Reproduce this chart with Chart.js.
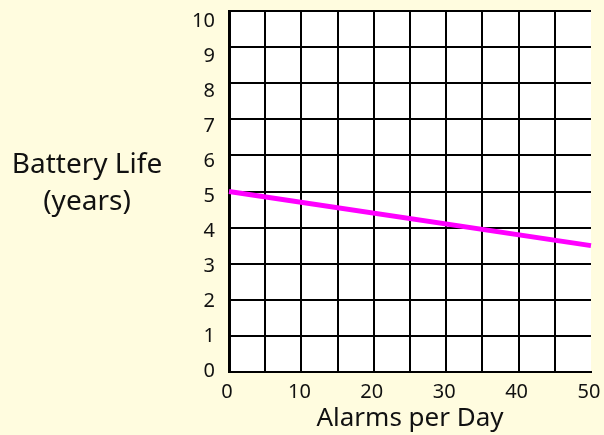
<!DOCTYPE html>
<html>
<head>
<meta charset="utf-8">
<script src="https://cdn.jsdelivr.net/npm/chart.js@4/dist/chart.umd.min.js"></script>
<style>
html,body{margin:0;padding:0;background:#FFFCDF;}
#wrap{width:604px;height:435px;position:relative;}
</style>
</head>
<body>
<div id="wrap"><canvas id="c" width="604" height="435"></canvas></div>
<script>
const alarmsPerDay = [0, 50];
const batteryLifeYears = [5, 3.5];
const xTickLabels = [0, 10, 20, 30, 40, 50];
const yTickLabels = [0, 1, 2, 3, 4, 5, 6, 7, 8, 9, 10];
const xTitle = "Alarms per Day";
const yTitleLines = ["Battery Life", "(years)"];

const FONT = "'Noto Sans', 'DejaVu Sans', sans-serif";

const bgPlugin = {
  id: 'bg',
  beforeDraw(chart) {
    const {ctx, chartArea} = chart;
    ctx.save();
    ctx.fillStyle = '#FFFCDF';
    ctx.fillRect(0, 0, chart.width, chart.height);
    ctx.fillStyle = '#FFFFFF';
    ctx.fillRect(chartArea.left, chartArea.top, chartArea.right - chartArea.left, chartArea.bottom - chartArea.top);
    ctx.restore();
  },
  afterDraw(chart) {
    const {ctx, chartArea} = chart;
    ctx.save();
    ctx.fillStyle = '#111111';
    ctx.textAlign = 'center';
    ctx.textBaseline = 'alphabetic';
    ctx.font = "26px " + FONT;
    ctx.fillText(xTitle, (chartArea.left + chartArea.right) / 2, 426);
    ctx.font = "28px " + FONT;
    ctx.fillText(yTitleLines[0], 87, 173);
    ctx.fillText(yTitleLines[1], 87, 210);
    ctx.restore();
  }
};

new Chart(document.getElementById('c'), {
  type: 'line',
  data: {
    datasets: [{
      data: alarmsPerDay.map((x, i) => ({x: x, y: batteryLifeYears[i]})),
      borderColor: '#FF00FF',
      borderWidth: 5,
      pointRadius: 0,
      tension: 0,
      clip: false,
      yAxisID: 'y'
    }]
  },
  options: {
    responsive: false,
    animation: false,
    devicePixelRatio: 1,
    layout: {padding: {left: 0, top: 11, right: 13, bottom: 0}},
    plugins: {legend: {display: false}, tooltip: {enabled: false}},
    scales: {
      x: {
        type: 'linear',
        min: xTickLabels[0],
        max: xTickLabels[xTickLabels.length - 1],
        afterFit(s) { s.height = 63; s.paddingLeft = 0; s.paddingRight = 0; },
        ticks: {
          stepSize: 5,
          autoSkip: false,
          maxRotation: 0,
          padding: 8,
          labelOffset: -2,
          color: '#111111',
          font: {family: FONT, size: 20},
          callback: (v) => xTickLabels.includes(v) ? String(v) : ''
        },
        grid: {
          color: (c) => (c.tick && c.tick.value === xTickLabels[xTickLabels.length - 1]) ? 'rgba(0,0,0,0)' : '#000000',
          lineWidth: 2,
          drawTicks: false
        },
        border: {display: true, color: '#000000', width: 2}
      },
      yLabels: {
        type: 'linear',
        position: 'left',
        min: -0.02,
        max: 10.29,
        afterFit(s) { s.width = 229; s.paddingTop = 0; s.paddingBottom = 0; },
        afterBuildTicks(s) { s.ticks = yTickLabels.map(v => ({value: v})); },
        ticks: {
          autoSkip: false,
          padding: 14,
          color: '#111111',
          font: {family: FONT, size: 20},
          callback: (v) => String(v)
        },
        grid: {display: false, drawTicks: false},
        border: {display: true, color: '#000000', width: 3}
      },
      y: {
        type: 'linear',
        position: 'left',
        min: yTickLabels[0],
        max: yTickLabels[yTickLabels.length - 1],
        afterFit(s) { s.width = 0; s.paddingTop = 0; s.paddingBottom = 0; },
        ticks: {stepSize: 1, display: false},
        grid: {color: '#000000', lineWidth: 2, drawTicks: false},
        border: {display: false}
      }
    }
  },
  plugins: [bgPlugin]
});
</script>
</body>
</html>
